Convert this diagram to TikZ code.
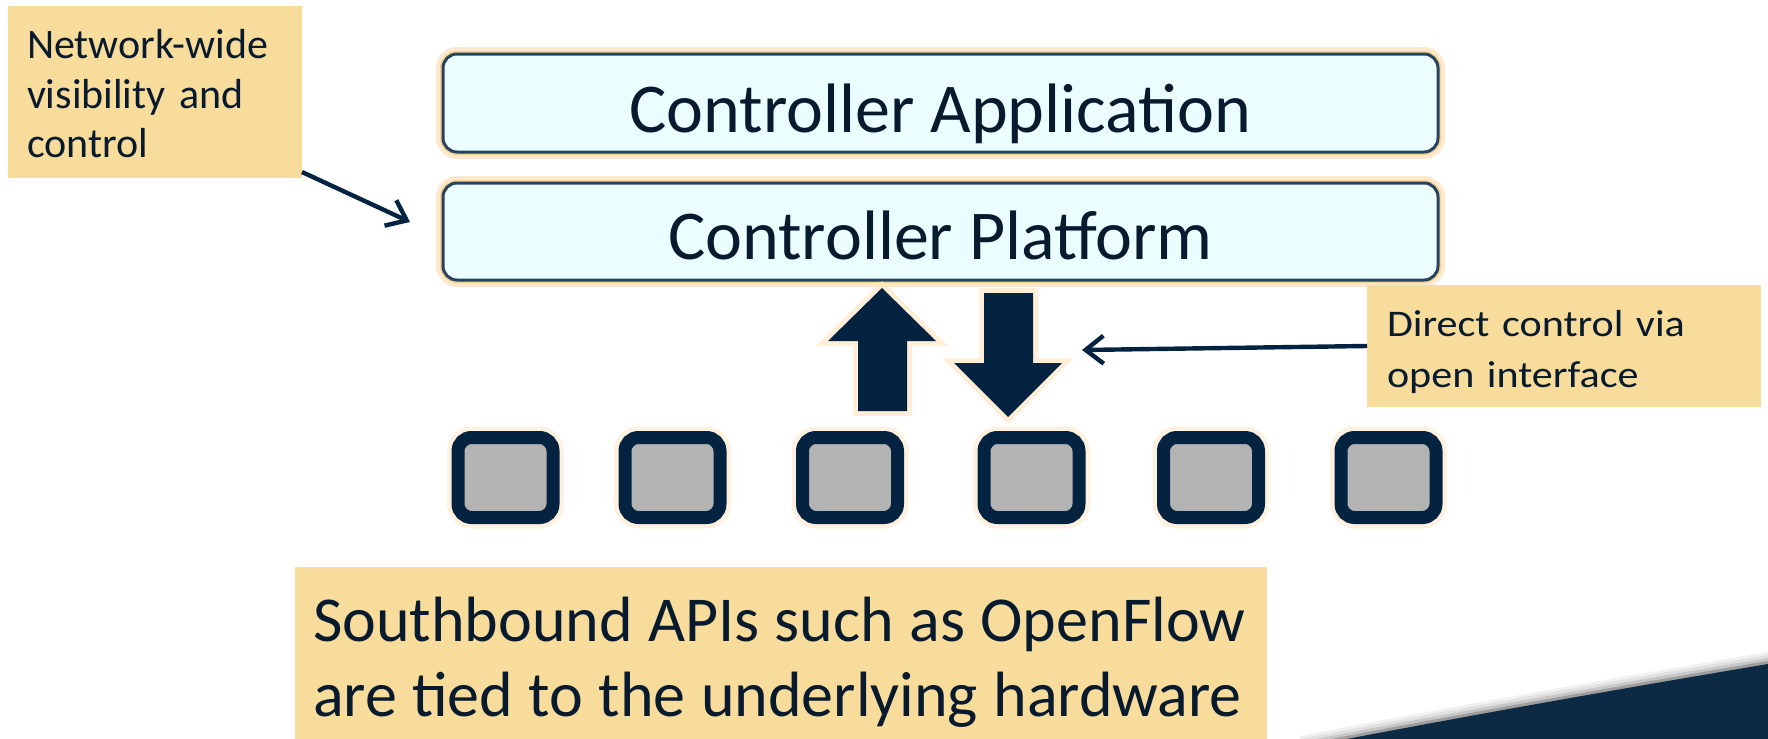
\documentclass[tikz,border=0pt]{standalone}
\usepackage{fontspec}
\setmainfont{Carlito}
\newfontfamily\wideface{Carlito}[FakeStretch=1.12]
\usetikzlibrary{arrows.meta}
\definecolor{navy}{RGB}{3,35,64}
\definecolor{ink}{RGB}{8,26,46}
\definecolor{note}{RGB}{248,220,156}
\definecolor{cyanfill}{RGB}{235,253,255}
\definecolor{boxline}{RGB}{38,68,98}
\definecolor{glowc}{RGB}{255,228,192}
\definecolor{goldline}{RGB}{240,200,120}
\definecolor{swoosh}{RGB}{12,42,68}
\definecolor{swgray}{RGB}{179,179,179}
\begin{document}
\begin{tikzpicture}[x=0.5pt,y=-0.5pt,
  notebox/.style={fill=note, inner ysep=0pt, outer sep=0pt, anchor=north west, align=left, text=ink},
  layer/.style={draw=boxline, line width=1.5pt, fill=cyanfill, rounded corners=7pt,
    minimum width=497.5pt, inner sep=0pt, outer sep=0pt, text=ink,
    font=\fontsize{35}{42}\selectfont, text depth=6pt,
    preaction={draw=glowc, line width=7pt, opacity=0.8},
    preaction={draw=goldline, line width=3pt, opacity=0.7}},
  switchbox/.style={draw=navy, line width=6.5pt, fill=swgray, rounded corners=6.75pt,
    minimum width=47.5pt, minimum height=40pt, inner sep=0pt,
    preaction={draw=glowc, line width=11pt, opacity=0.5}},
  blockarrow/.style={fill=navy, preaction={draw=glowc, line width=5pt, opacity=0.6}},
  conn/.style={draw=navy, line width=2.2pt, -{Straight Barb[length=9pt,width=14pt]}}
]
\useasboundingbox (0,0) rectangle (1768,739);

% bottom-right swoosh with soft shadow
\foreach \d/\c in {12/6,9/12,6/22,3/38}{
  \begin{scope}[yshift=\d*0.5pt]
    \fill[black!\c] (1300,748) .. controls (1465,716) and (1625,688) .. (1768,664) -- (1768,760) -- (1300,760) -- cycle;
  \end{scope}
}
\fill[swoosh] (1300,748) .. controls (1465,716) and (1625,688) .. (1768,664) -- (1768,760) -- (1300,760) -- cycle;

% controller layers
\node[layer, minimum height=49pt, text height=35pt] (app) at (940.5,103) {Controller Application};
\node[layer, minimum height=48.5pt, text height=33.5pt] (plat) at (940.5,231.5) {Controller Platform};

% block arrows
\fill[blockarrow] (882,288) -- (936,341) -- (907,341) -- (907,411) -- (858,411) -- (858,341) -- (828,341) -- cycle;
\fill[blockarrow] (1008,417) -- (1062,363) -- (1033,363) -- (1033,293) -- (984,293) -- (984,363) -- (954,363) -- cycle;

% switches
\node[switchbox] (s1) at (505.5,477.5) {};
\node[switchbox] (s2) at (672.5,477.5) {};
\node[switchbox] (s3) at (850,477.5) {};
\node[switchbox] (s4) at (1031.5,477.5) {};
\node[switchbox] (s5) at (1211,477.5) {};
\node[switchbox] (s6) at (1388.5,477.5) {};

% notes
\node[notebox, text width=128pt, inner xsep=9.5pt, font=\fontsize{21}{25}\selectfont] (nw) at (8,6)
  {\rule{0pt}{26pt}Network-wide\\visibility and\\control\rule[-10pt]{0pt}{0pt}};
\node[notebox, text width=177pt, inner xsep=10pt, font=\wideface\fontsize{18.8}{25.5}\selectfont] (dc) at (1367,285)
  {\rule{0pt}{25.5pt}Direct control via\\open interface\rule[-10pt]{0pt}{0pt}};
\node[notebox, text width=468pt, inner xsep=9pt, font=\fontsize{32}{37.5}\selectfont] (sb) at (295,567)
  {\spaceskip=0.24em\relax\rule{0pt}{37pt}\makebox[468pt][l]{Southbound APIs such as OpenFlow}\\\makebox[468pt][l]{are tied to the underlying hardware}\rule[-11.5pt]{0pt}{0pt}};

% connectors
\coordinate (nwtip) at (410,222);
\coordinate (dctip) at (1082,350);
\draw[conn] ([yshift=3pt]nw.south east) -- (nwtip);
\draw[conn] (dc.west) -- (dctip);
\end{tikzpicture}
\end{document}
